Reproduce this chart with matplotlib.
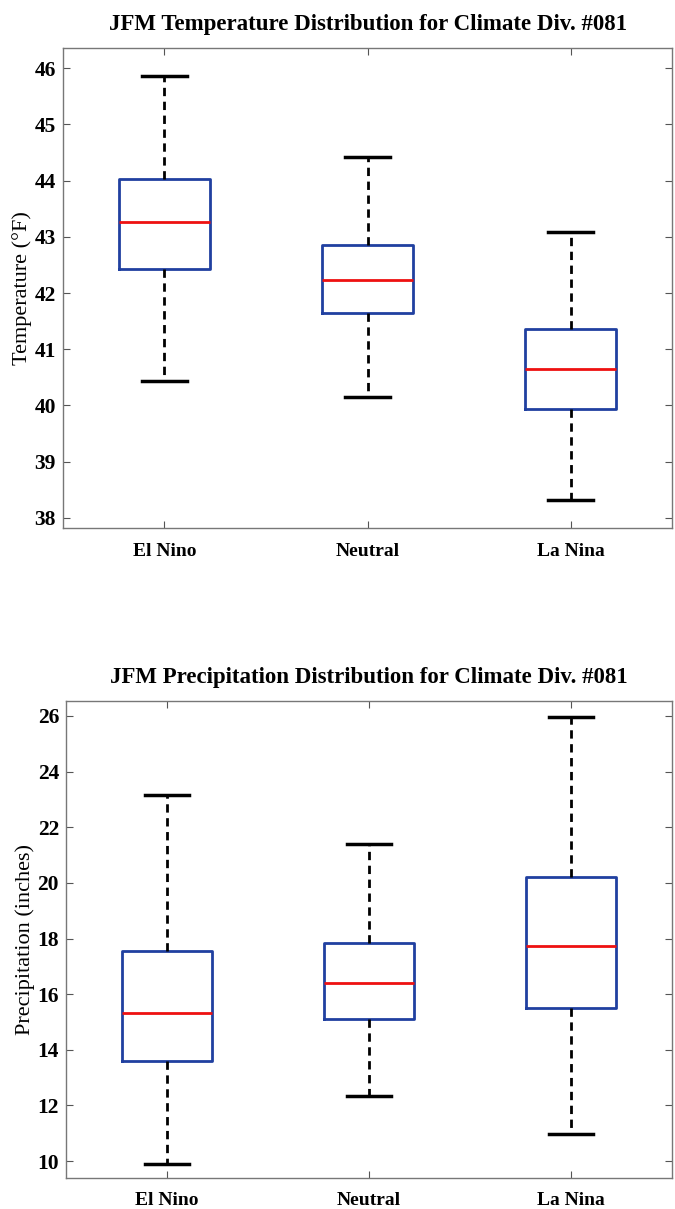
import matplotlib
matplotlib.use("Agg")
import matplotlib.pyplot as plt

categories = ["El Nino", "Neutral", "La Nina"]

temp_whislo = [40.43, 40.15, 38.32]
temp_q1 = [42.42, 41.65, 39.94]
temp_med = [43.26, 42.24, 40.64]
temp_q3 = [44.03, 42.85, 41.36]
temp_whishi = [45.86, 44.42, 43.08]
temp_ticks = [38, 39, 40, 41, 42, 43, 44, 45, 46]

prcp_whislo = [9.9, 12.35, 10.98]
prcp_q1 = [13.58, 15.1, 15.5]
prcp_med = [15.33, 16.4, 17.73]
prcp_q3 = [17.55, 17.85, 20.2]
prcp_whishi = [23.15, 21.4, 25.97]
prcp_ticks = [10, 12, 14, 16, 18, 20, 22, 24, 26]

plt.rcParams['font.family'] = ['Liberation Serif', 'DejaVu Serif']

fig = plt.figure(figsize=(6.75, 12.09), dpi=100)
ax1 = fig.add_axes([0.0933, 0.5633, 0.9023, 0.3970])
ax2 = fig.add_axes([0.0978, 0.0256, 0.8978, 0.3946])


def draw(ax, lo, q1, med, q3, hi, ticks, ylim, title, ylabel, xpad):
    stats = []
    for i, c in enumerate(categories):
        stats.append(dict(label=c, whislo=lo[i], q1=q1[i], med=med[i], q3=q3[i],
                          whishi=hi[i], fliers=[]))
    ax.bxp(stats, positions=[1, 2, 3], widths=0.45, showfliers=False,
           boxprops=dict(color='#2040a0', linewidth=2),
           medianprops=dict(color='#ee1111', linewidth=2),
           whiskerprops=dict(color='black', linewidth=2, linestyle=(0, (3, 2))),
           capprops=dict(color='black', linewidth=2.5),
           capwidths=0.22)
    ax.set_xlim(0.5, 3.5)
    ax.set_ylim(*ylim)
    ax.set_yticks(ticks)
    ax.set_yticklabels([str(t) for t in ticks], fontsize=15.5, fontweight='bold')
    ax.set_xticks([1, 2, 3])
    ax.set_xticklabels(categories, fontsize=14, fontweight='bold')
    ax.tick_params(direction='in', top=True, right=True, length=5, width=0.8,
                   color='#555555', pad=5)
    ax.tick_params(axis='x', pad=xpad)
    for s in ax.spines.values():
        s.set_color('#777777')
        s.set_linewidth(1.0)
    ax.set_title(title, fontsize=16.5, fontweight='bold', pad=13)
    ax.set_ylabel(ylabel, fontsize=16, labelpad=2)


draw(ax1, temp_whislo, temp_q1, temp_med, temp_q3, temp_whishi, temp_ticks,
     (37.82, 46.36), "JFM Temperature Distribution for Climate Div. #081",
     "Temperature (°F)", 11)
draw(ax2, prcp_whislo, prcp_q1, prcp_med, prcp_q3, prcp_whishi, prcp_ticks,
     (9.39, 26.54), "JFM Precipitation Distribution for Climate Div. #081",
     "Precipitation (inches)", 10)

fig.savefig("out.png", dpi=100)
